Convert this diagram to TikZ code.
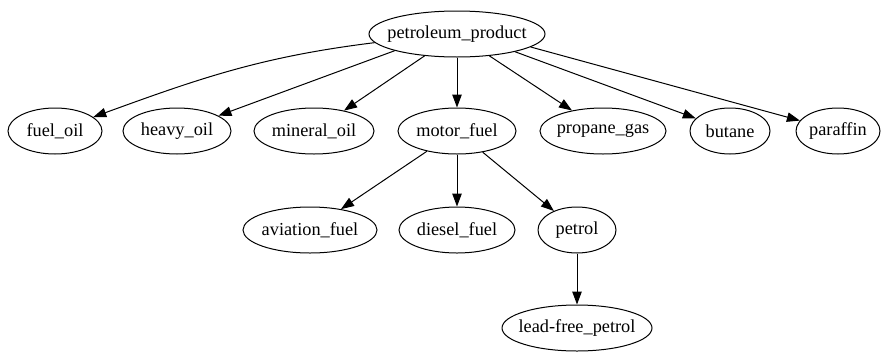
\documentclass[tikz,border=0pt]{standalone}
\usepackage{fontspec}
\setmainfont{Liberation Serif}
\usetikzlibrary{shapes.geometric,arrows.meta}
\begin{document}
\begin{tikzpicture}[x=1pt,y=1pt,
  nd/.style={ellipse,draw,line width=1pt,inner sep=0pt,minimum height=46pt,
    font=\fontsize{18.3}{20}\selectfont},
  link/.style={-{Triangle[length=13pt,width=9.5pt]},line width=1pt}]
\useasboundingbox (0,0) rectangle (882,-351);
% nodes
\node[nd,minimum width=176pt] (pp) at (457,-34) {\makebox[0pt]{petroleum\_product}};
\node[nd,minimum width=94pt]  (fuel) at (55,-131) {\makebox[0pt]{fuel\_oil}};
\node[nd,minimum width=108pt] (heavy) at (177,-131) {\makebox[0pt]{heavy\_oil}};
\node[nd,minimum width=120pt] (mineral) at (314,-131) {\makebox[0pt]{mineral\_oil}};
\node[nd,minimum width=118pt] (motor) at (457,-131) {\makebox[0pt]{motor\_fuel}};
\node[nd,minimum width=126pt] (propane) at (603,-131) {\makebox[0pt]{propane\_gas}};
\node[nd,minimum width=80pt]  (butane) at (730,-131) {\makebox[0pt]{butane}};
\node[nd,minimum width=84pt]  (paraffin) at (838,-131) {\makebox[0pt]{paraffin}};
\node[nd,minimum width=134pt] (aviation) at (310,-230) {\makebox[0pt]{aviation\_fuel}};
\node[nd,minimum width=116pt] (diesel) at (457,-230) {\makebox[0pt]{diesel\_fuel}};
\node[nd,minimum width=78pt]  (petrol) at (577,-230) {\makebox[0pt]{petrol}};
\node[nd,minimum width=150pt] (leadfree) at (577,-328) {\makebox[0pt]{lead-free\_petrol}};
% edges
\draw[link] (pp.186) to[out=187,in=20] (fuel);
\draw[link] (pp.195) -- (heavy);
\draw[link] (pp.214) -- (mineral);
\draw[link] (pp) -- (motor);
\draw[link] (pp.-34) -- (propane);
\draw[link] (pp.-17) -- (butane);
\draw[link] (pp.-10) -- (paraffin);
\draw[link] (motor) -- (aviation);
\draw[link] (motor) -- (diesel);
\draw[link] (motor) -- (petrol);
\draw[link] (petrol) -- (leadfree);
\end{tikzpicture}
\end{document}
